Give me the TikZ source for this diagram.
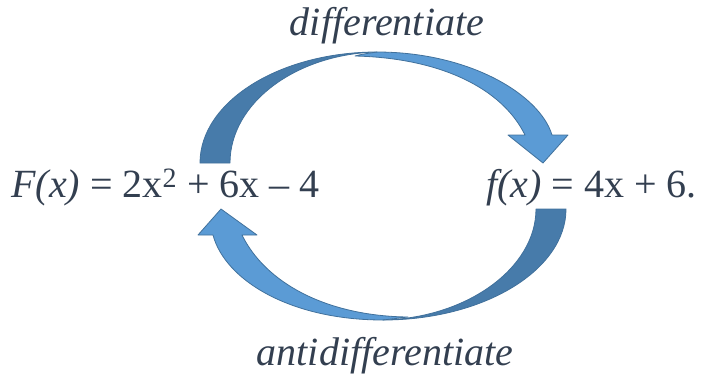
\documentclass[tikz,border=0pt]{standalone}
\usepackage{fontspec}
\setmainfont{Liberation Serif}
\definecolor{txt}{HTML}{333F50}
\definecolor{lightb}{HTML}{5B9BD5}
\definecolor{darkb}{HTML}{477BAA}
\definecolor{edgeb}{HTML}{41719C}
\begin{document}
\begin{tikzpicture}[x=1pt,y=-1pt,
  lbl/.style={inner sep=0pt,anchor=base,text=txt,font=\fontsize{40}{46}\selectfont},
  front/.style={fill=lightb,draw=edgeb,line width=0.8pt,line join=round},
  back/.style={fill=darkb,draw=edgeb,line width=0.8pt,line join=round}]
\useasboundingbox (0,0) rectangle (713,376);
% top arrow: front (light) part
\path[front] (377,52) .. controls (470,52) and (540,95) .. (552,135)
  -- (568,135) -- (543,163) -- (508,135) -- (525,135)
  .. controls (502,88) and (440,58) .. (355,56)
  .. controls (362,54) and (370,53) .. (377,52) -- cycle;
% top arrow: back (dark) part
\path[back] (200,163) .. controls (200,102) and (279,52) .. (377,52)
  .. controls (296,54) and (230,103) .. (230,163) -- cycle;
% bottom arrow: front (light) part
\path[front] (383,320) .. controls (290,320) and (225,280) .. (213,235)
  -- (198,235) -- (221,209) -- (257,235) -- (242,235)
  .. controls (265,282) and (325,316) .. (408,317)
  .. controls (400,318) and (391,319) .. (383,320) -- cycle;
% bottom arrow: back (dark) part
\path[back] (566,209) .. controls (566,270) and (484,320) .. (383,320)
  .. controls (467,318) and (536,268) .. (536,209) -- cycle;
% labels
\node[lbl] (F) at (165.5,197) {\textit{F(x)} = 2x\textsuperscript{2} + 6x – 4};
\node[lbl] (f) at (591.5,197) {\textit{f(x)} = 4x + 6.};
\node[lbl] (d) at (387,35) {\textit{differentiate}};
\node[lbl] (a) at (385,365) {\textit{antidifferentiate}};
\end{tikzpicture}
\end{document}
